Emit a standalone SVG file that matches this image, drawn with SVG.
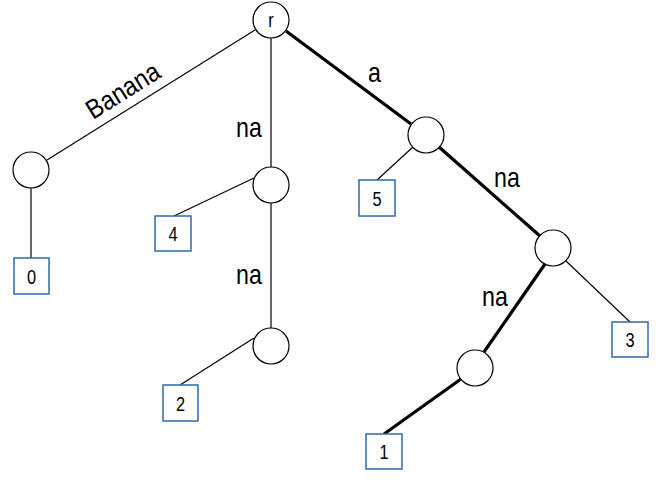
<svg xmlns="http://www.w3.org/2000/svg" width="665" height="481" viewBox="0 0 665 481">
<style>
.n{fill:#fff;stroke:#000;stroke-width:1.2}
.b{fill:#fff;stroke:#2e6bb0;stroke-width:1.5}
.t{stroke:#000;stroke-width:1.2;fill:none}
.k{stroke:#000;stroke-width:3.2;fill:none}
.lbl{font-family:"Liberation Sans",Arial,sans-serif;font-size:27px;fill:#000}
.bl{font-family:"Liberation Sans",Arial,sans-serif;font-size:21px;fill:#000;text-anchor:middle}
</style>
<rect width="665" height="481" fill="#fff"/>
<g id="connectors">
<line class="t" x1="255" y1="30" x2="47" y2="160"/>
<line class="t" x1="271" y1="38" x2="271" y2="167"/>
<line class="k" x1="286" y1="31" x2="411" y2="124"/>
<line class="t" x1="31" y1="188" x2="31" y2="258"/>
<line class="t" x1="254" y1="178" x2="174" y2="216"/>
<line class="t" x1="271" y1="203" x2="271" y2="328"/>
<line class="t" x1="254" y1="338" x2="180" y2="385"/>
<line class="t" x1="413" y1="147" x2="377" y2="180"/>
<line class="k" x1="439" y1="147" x2="540" y2="236"/>
<line class="t" x1="566" y1="261" x2="630" y2="322"/>
<line class="k" x1="545" y1="264" x2="484" y2="352"/>
<line class="k" x1="461" y1="379" x2="384" y2="434"/>
<text class="lbl" font-size="29" transform="translate(93,120) rotate(-32) scale(0.88,1)">Banana</text>
<text class="lbl" transform="translate(236,137) scale(0.86,1)">na</text>
<text class="lbl" transform="translate(236,284) scale(0.86,1)">na</text>
<text class="lbl" transform="translate(368,82) scale(0.86,1)">a</text>
<text class="lbl" transform="translate(494,187) scale(0.86,1)">na</text>
<text class="lbl" transform="translate(482,306) scale(0.86,1)">na</text>
</g>
<g id="r"><circle class="n" cx="271" cy="20" r="18"/><text class="bl" transform="translate(271,27) scale(0.78,1)">r</text></g>
<g id="n_banana"><circle class="n" cx="31" cy="170" r="18"/></g>
<g id="n_na1"><circle class="n" cx="271" cy="185" r="18"/></g>
<g id="n_na2"><circle class="n" cx="271" cy="346" r="18"/></g>
<g id="n_a"><circle class="n" cx="426" cy="135" r="18"/></g>
<g id="n_ana"><circle class="n" cx="553" cy="248" r="18"/></g>
<g id="n_anana"><circle class="n" cx="475" cy="368" r="18"/></g>
<g id="leaf0"><rect class="b" x="14" y="258" width="35" height="36"/><text class="bl" transform="translate(31.5,284) scale(0.78,1)">0</text></g>
<g id="leaf4"><rect class="b" x="155" y="216" width="36" height="35"/><text class="bl" transform="translate(173,241) scale(0.78,1)">4</text></g>
<g id="leaf2"><rect class="b" x="163" y="385" width="35" height="36"/><text class="bl" transform="translate(180.5,411) scale(0.78,1)">2</text></g>
<g id="leaf5"><rect class="b" x="359" y="180" width="36" height="36"/><text class="bl" transform="translate(377,206) scale(0.78,1)">5</text></g>
<g id="leaf3"><rect class="b" x="612" y="322" width="36" height="35"/><text class="bl" transform="translate(630,347) scale(0.78,1)">3</text></g>
<g id="leaf1"><rect class="b" x="366" y="434" width="36" height="35"/><text class="bl" transform="translate(384,459) scale(0.78,1)">1</text></g>
</svg>
